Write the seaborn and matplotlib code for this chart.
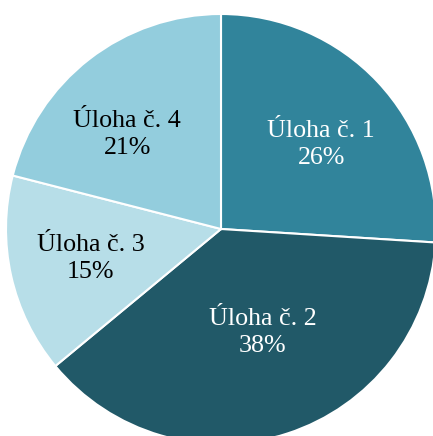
import matplotlib
matplotlib.use("Agg")
import numpy as np
import matplotlib.pyplot as plt
import seaborn as sns

# Data
labels = ["Úloha č. 1", "Úloha č. 2", "Úloha č. 3", "Úloha č. 4"]
shares = [26, 38, 15, 21]
colors = ["#31849B", "#215968", "#B7DEE8", "#93CDDD"]
text_colors = ["white", "white", "black", "black"]
label_dist = [0.61, 0.52, 0.62, 0.62]
label_turn = [-3, 4, 0, 7]  # small nudges of label angle, degrees

sns.set_theme(style="white")
plt.rcParams["font.family"] = ["Liberation Serif", "DejaVu Serif"]

fig = plt.figure(figsize=(4.33, 4.36), dpi=100)
# pie is slightly larger than the canvas, clipped at right and bottom
ax = fig.add_axes([6 / 433, -8 / 436, 430 / 433, 430 / 436])

wedges, texts = ax.pie(
    shares,
    labels=[f"{l}\n{s}%" for l, s in zip(labels, shares)],
    colors=colors,
    startangle=90,
    counterclock=False,
    labeldistance=0.6,
    radius=1.0,
    wedgeprops=dict(edgecolor="white", linewidth=1.5),
    textprops=dict(fontsize=18.7, ha="center", va="center"),
)
for w, t, c, d, turn in zip(wedges, texts, text_colors, label_dist, label_turn):
    ang = np.deg2rad((w.theta1 + w.theta2) / 2 + turn)
    t.set_position((d * np.cos(ang), d * np.sin(ang)))
    t.set_color(c)
    t.set_horizontalalignment("center")
    t.set_verticalalignment("center")
    t.set_linespacing(1.3)

ax.set_xlim(-1, 1)
ax.set_ylim(-1, 1)
ax.axis("off")

fig.savefig("out.png", dpi=100)
